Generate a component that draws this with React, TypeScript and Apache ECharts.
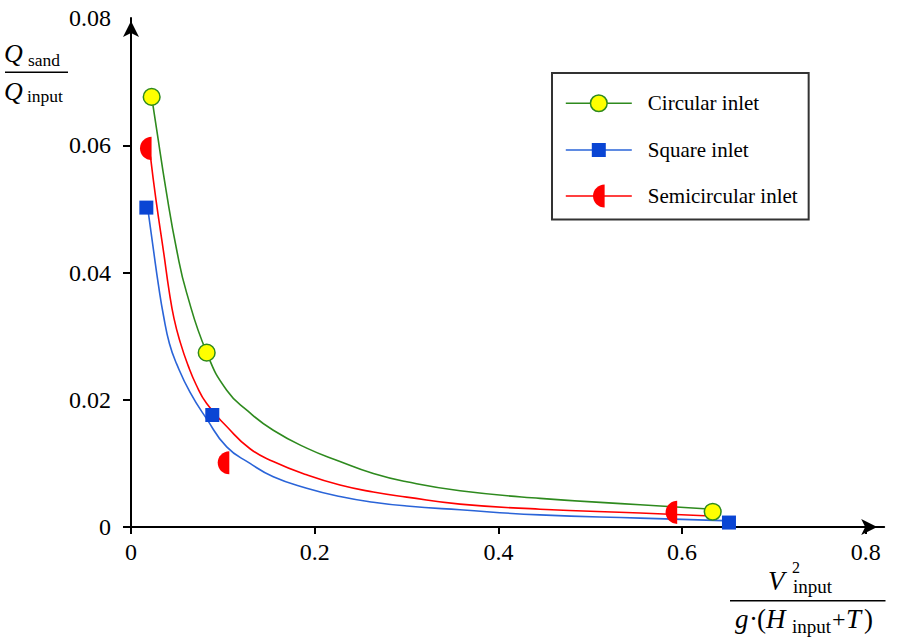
import React, { useEffect, useRef } from "react";
import * as echarts from "echarts";

const FONT = "Liberation Serif";

// Series names
const seriesNames = ["Circular inlet", "Square inlet", "Semicircular inlet"];

// Measured points (markers)
const circX = [0.0225, 0.0824, 0.6333];
const circY = [0.0676, 0.0274, 0.0024];
const sqX = [0.0167, 0.0885, 0.651];
const sqY = [0.0502, 0.0176, 0.0007];
const semiX = [0.0161, 0.1007, 0.5883];
const semiY = [0.0595, 0.0101, 0.0023];

// Fitted curves
const greenCurveX = [0.0225, 0.028, 0.0381, 0.0498, 0.0606, 0.0824, 0.1042, 0.1274, 0.1549, 0.1913, 0.2275, 0.2638, 0.3002, 0.3582, 0.4453, 0.5542, 0.6333];
const greenCurveY = [0.0676, 0.0624, 0.053, 0.0435, 0.0368, 0.0274, 0.0215, 0.0182, 0.0152, 0.0124, 0.0103, 0.0084, 0.0071, 0.0057, 0.0045, 0.0035, 0.0028];
const redCurveX = [0.0212, 0.0272, 0.0359, 0.0414, 0.0468, 0.0539, 0.0621, 0.0708, 0.0824, 0.1042, 0.1296, 0.1549, 0.1913, 0.2275, 0.2638, 0.3002, 0.3582, 0.4453, 0.5542, 0.6377];
const redCurveY = [0.0582, 0.0514, 0.0428, 0.0372, 0.0328, 0.0289, 0.0254, 0.0224, 0.0194, 0.0158, 0.0123, 0.0103, 0.0082, 0.0066, 0.0055, 0.0047, 0.0036, 0.0028, 0.0022, 0.0017];
const blueCurveX = [0.0185, 0.0245, 0.0299, 0.0354, 0.0419, 0.0498, 0.0642, 0.0824, 0.1042, 0.1296, 0.1549, 0.1913, 0.2275, 0.2638, 0.3002, 0.3582, 0.4453, 0.5542, 0.6445];
const blueCurveY = [0.0498, 0.0435, 0.038, 0.0332, 0.0288, 0.0256, 0.0212, 0.017, 0.0126, 0.01, 0.0079, 0.0061, 0.0048, 0.0039, 0.0033, 0.0027, 0.0019, 0.0014, 0.001];

// Tick values
const xTicks = [0, 0.2, 0.4, 0.6, 0.8];
const yTickMarks = [0, 0.02, 0.04, 0.06];
const yLabels = [0, 0.02, 0.04, 0.06, 0.08];

const GREEN = "#2e8a1e";
const YELLOW = "#ffff00";
const BLUE_LINE = "#2a64d8";
const BLUE_FILL = "#0a45d4";
const RED = "#ff0000";

const circlePath =
  "path://M12,3.65C16.61,3.65 20.35,7.39 20.35,12C20.35,16.61 16.61,20.35 12,20.35C7.39,20.35 3.65,16.61 3.65,12C3.65,7.39 7.39,3.65 12,3.65ZM0,0M24,24";
const squarePath = "path://M5,5L19,5L19,19L5,19ZM0,0M24,24";
const semiPath =
  "path://M17.8,0.4C11.39,0.4 6.2,5.59 6.2,12C6.2,18.41 11.39,23.6 17.8,23.6ZM0,0M24,24";

const zip = (xs: number[], ys: number[]) => xs.map((x, i) => [x, ys[i]]);

const txt = (text: string, x: number, y: number, fontSize: number, italic: boolean) => ({
  type: "text",
  x,
  y,
  silent: true,
  style: {
    text,
    fontSize,
    fontFamily: FONT,
    fontStyle: italic ? "italic" : "normal",
    fill: "#000",
    textAlign: "left",
    textVerticalAlign: "middle",
    align: "left",
    verticalAlign: "middle",
  },
});

const hline = (x1: number, x2: number, y: number) => ({
  type: "line",
  silent: true,
  shape: { x1, y1: y, x2, y2: y },
  style: { stroke: "#000", lineWidth: 1.5 },
});

export default function App() {
  const ref = useRef<HTMLDivElement>(null);
  useEffect(() => {
    document.body.style.margin = "0";
    if (!ref.current) return;
    const chart = echarts.init(ref.current, undefined, { renderer: "svg" });
    const axisText = { fontFamily: FONT, fontSize: 24, color: "#000" };
    const option: any = {
      animation: false,
      backgroundColor: "#fff",
      grid: { left: 131, top: 18, right: 17.8, bottom: 117 },
      xAxis: {
        type: "value",
        min: 0,
        max: 0.82,
        splitLine: { show: false },
        axisLine: {
          show: true,
          lineStyle: { color: "#000", width: 2 },
          symbol: ["none", "arrow"],
          symbolSize: [12, 16],
          symbolOffset: [0, -7],
        },
        axisTick: { show: true, length: 7, lineStyle: { color: "#000", width: 2 }, customValues: xTicks },
        axisLabel: {
          ...axisText,
          margin: 13,
          customValues: xTicks,
          formatter: (v: number) => (v === 0 ? "0" : v.toFixed(1)),
        },
      },
      yAxis: {
        type: "value",
        min: 0,
        max: 0.08,
        splitLine: { show: false },
        axisLine: {
          show: true,
          lineStyle: { color: "#000", width: 2 },
          symbol: ["none", "arrow"],
          symbolSize: [12, 16],
          symbolOffset: [0, -3],
        },
        axisTick: { show: true, length: 8, lineStyle: { color: "#000", width: 2 }, customValues: yTickMarks },
        axisLabel: {
          ...axisText,
          margin: 20,
          customValues: yLabels,
          formatter: (v: number) => (v === 0 ? "0" : v.toFixed(2)),
        },
      },
      legend: {
        orient: "vertical",
        left: 552,
        top: 73,
        padding: [17.5, 11, 11.5, 13],
        itemWidth: 66,
        itemHeight: 30,
        itemGap: 22,
        borderColor: "#333",
        borderWidth: 2,
        backgroundColor: "#fff",
        selectedMode: false,
        textStyle: { fontFamily: FONT, fontSize: 21, color: "#000", padding: [0, 0, 0, 11] },
        data: [
          {
            name: seriesNames[0],
            itemStyle: { color: YELLOW, borderColor: GREEN, borderWidth: 1.5 },
            lineStyle: { color: GREEN, width: 1.6 },
          },
          {
            name: seriesNames[1],
            itemStyle: { color: BLUE_FILL, borderColor: BLUE_FILL, borderWidth: 0 },
            lineStyle: { color: BLUE_LINE, width: 1.6 },
          },
          {
            name: seriesNames[2],
            itemStyle: { color: RED, borderColor: RED, borderWidth: 0 },
            lineStyle: { color: RED, width: 1.6 },
          },
        ],
      },
      series: [
        {
          name: seriesNames[0],
          type: "line",
          data: zip(greenCurveX, greenCurveY),
          smooth: 0.5,
          showSymbol: false,
          symbol: circlePath,
          symbolSize: 24,
          lineStyle: { color: GREEN, width: 1.6 },
          itemStyle: { color: YELLOW, borderColor: GREEN, borderWidth: 1.5 },
          z: 2,
        },
        {
          name: seriesNames[1],
          type: "line",
          data: zip(blueCurveX, blueCurveY),
          smooth: 0.5,
          showSymbol: false,
          symbol: squarePath,
          symbolSize: 24,
          lineStyle: { color: BLUE_LINE, width: 1.6 },
          itemStyle: { color: BLUE_FILL },
          z: 2,
        },
        {
          name: seriesNames[2],
          type: "line",
          data: zip(redCurveX, redCurveY),
          smooth: 0.5,
          showSymbol: false,
          symbol: semiPath,
          symbolSize: 24,
          lineStyle: { color: RED, width: 1.6 },
          itemStyle: { color: RED },
          z: 2,
        },
        {
          name: seriesNames[0] + " points",
          type: "scatter",
          data: zip(circX, circY),
          symbol: circlePath,
          symbolSize: 24,
          itemStyle: { color: YELLOW, borderColor: GREEN, borderWidth: 1.5, opacity: 1 },
          z: 3,
        },
        {
          name: seriesNames[1] + " points",
          type: "scatter",
          data: zip(sqX, sqY),
          symbol: squarePath,
          symbolSize: 24,
          itemStyle: { color: BLUE_FILL, opacity: 1 },
          z: 3,
        },
        {
          name: seriesNames[2] + " points",
          type: "scatter",
          data: zip(semiX, semiY),
          symbol: semiPath,
          symbolSize: 24,
          itemStyle: { color: RED, opacity: 1 },
          z: 3,
        },
      ],
      graphic: [
        // y-axis title
        txt("Q", 4, 53, 26, true),
        txt("sand", 28, 59.5, 17.5, false),
        hline(5, 68, 72.3),
        txt("Q", 4, 91, 26, true),
        txt("input", 27, 96, 17.5, false),
        // x-axis title
        txt("V", 768, 581, 27, true),
        txt("2", 792, 567.5, 16, false),
        txt("input", 793, 586, 19, false),
        hline(730, 885.5, 600.7),
        txt("g", 735, 619, 27, true),
        txt("·", 749, 619, 27, false),
        txt("(", 757, 619, 27, false),
        txt("H", 766, 619, 27, true),
        txt("input", 792, 626, 19, false),
        txt("+", 832, 619, 24, false),
        txt("T", 846, 619, 27, true),
        txt(")", 864, 619, 27, false),
      ],
    };
    chart.setOption(option);
    return () => chart.dispose();
  }, []);
  return <div ref={ref} style={{ width: 902, height: 644 }} />;
}
